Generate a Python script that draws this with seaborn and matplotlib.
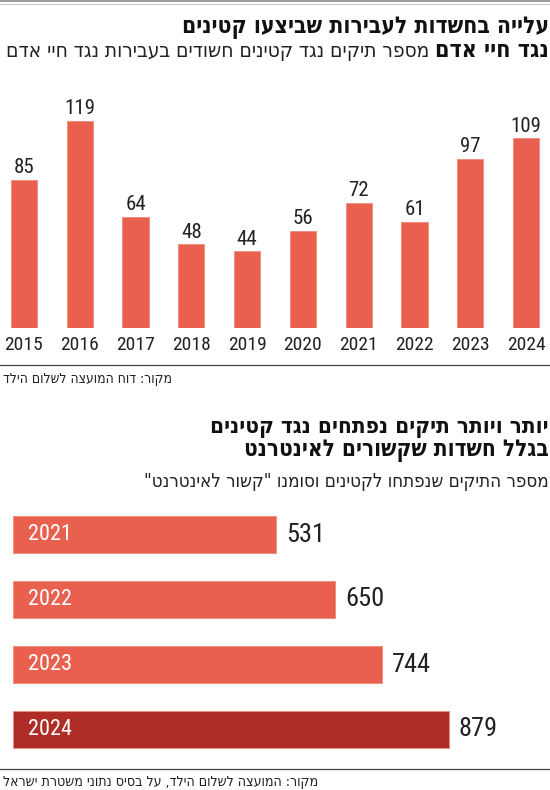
import os
import numpy as np
import pandas as pd
import seaborn as sns
import matplotlib
matplotlib.use('Agg')
import matplotlib.pyplot as plt
from matplotlib import font_manager as fm
from matplotlib.ft2font import FT2Font
from matplotlib.lines import Line2D

# Data
years_top = ['2015', '2016', '2017', '2018', '2019', '2020', '2021', '2022', '2023', '2024']
cases_top = [85, 119, 64, 48, 44, 56, 72, 61, 97, 109]
years_net = ['2021', '2022', '2023', '2024']
cases_net = [531, 650, 744, 879]

# Texts (logical order, reversed for drawing since matplotlib has no bidi)
title1 = 'עלייה בחשדות לעבירות שביצעו קטינים'
title1_bold = 'נגד חיי אדם'
subtitle1 = 'מספר תיקים נגד קטינים חשודים בעבירות נגד חיי אדם'
source1 = 'מקור: דוח המועצה לשלום הילד'
title2_a = 'יותר ויותר תיקים נפתחים נגד קטינים'
title2_b = 'בגלל חשדות שקשורים לאינטרנט'
subtitle2 = 'מספר התיקים שנפתחו לקטינים וסומנו "קשור לאינטרנט"'
source2 = 'מקור: המועצה לשלום הילד, על בסיס נתוני משטרת ישראל'

RED = '#E9604F'
DARK_RED = '#AF2D26'
INK = '#222222'

HEB = 'אבגדהוזחטיכלמנסעפצקרשתםןףץך'


def rtl(s):
    return s[::-1]


def pick_font(candidates, chars='0123456789'):
    files = {os.path.basename(f.fname): f.fname for f in fm.fontManager.ttflist}
    for name in candidates:
        path = files.get(name)
        if path is None:
            continue
        try:
            cmap = FT2Font(path).get_charmap()
        except Exception:
            continue
        if all(ord(c) in cmap for c in chars):
            return fm.FontProperties(fname=path)
    return fm.FontProperties(family='DejaVu Sans')


num_font = pick_font(['RobotoCondensed-Regular.ttf', 'Roboto-Condensed.ttf',
                      'LiberationSansNarrow-Regular.ttf', 'DejaVuSansCondensed.ttf',
                      'Roboto-Regular.ttf'])
heb_bold = pick_font(['LiberationSansNarrow-Bold.ttf', 'DejaVuSansCondensed-Bold.ttf',
                      'DejaVuSans-Bold.ttf'], HEB)
heb_reg = pick_font(['LiberationSansNarrow-Regular.ttf', 'DejaVuSansCondensed.ttf',
                     'DejaVuSans.ttf'], HEB)

W, H = 550, 790
fig = plt.figure(figsize=(W / 100, H / 100), dpi=100)
fig.patch.set_facecolor('white')


def fx(x):
    return x / W


def fy(y):
    return 1 - y / H


# ---- top chart: vertical bars ----
ax1 = fig.add_axes([0, fy(328), 1, 228 / H])
sns.barplot(x=years_top, y=cases_top, color=RED, saturation=1, width=0.47,
            errorbar=None, ax=ax1, edgecolor='#F08A7C', linewidth=0.6)
ax1.set_xlim(-0.43, 9.427)
ax1.set_ylim(0, 131.0)
ax1.bar_label(ax1.containers[0], fontproperties=num_font, fontsize=15, padding=2, color=INK)
ax1.tick_params(axis='x', length=0, pad=6)
for lbl in ax1.get_xticklabels():
    lbl.set_fontproperties(num_font)
    lbl.set_fontsize(14)
    lbl.set_color(INK)
ax1.set_yticks([])
ax1.set_xlabel('')
ax1.set_ylabel('')
for s in ax1.spines.values():
    s.set_visible(False)
ax1.patch.set_alpha(0)

# ---- bottom chart: horizontal bars ----
px_per_unit = 263.5 / 531
ax2 = fig.add_axes([fx(12.7), fy(762), (W - 12.7) / W, 260 / H])
sns.barplot(x=cases_net, y=years_net, hue=years_net, orient='h',
            palette=[RED, RED, RED, DARK_RED], saturation=1, width=0.56,
            errorbar=None, legend=False, ax=ax2, edgecolor='#F08A7C', linewidth=0.6)
ax2.set_ylim(3.5, -0.5)
ax2.set_xlim(0, (W - 12.7) / px_per_unit)
for c in ax2.containers:
    ax2.bar_label(c, fontproperties=num_font, fontsize=19, padding=7, color=INK)
for i, yr in enumerate(years_net):
    ax2.annotate(yr, xy=(0, i), xytext=(11, 0), textcoords='offset points',
                 ha='left', va='center', color='white', fontproperties=num_font, fontsize=16)
ax2.set_xticks([])
ax2.set_yticks([])
ax2.set_xlabel('')
ax2.set_ylabel('')
for s in ax2.spines.values():
    s.set_visible(False)
ax2.patch.set_alpha(0)

# ---- rules ----
fig.add_artist(Line2D([0, 1], [fy(1), fy(1)], transform=fig.transFigure, color='#8C8C8C', lw=1.2))
fig.add_artist(Line2D([0, 1], [fy(3.5), fy(3.5)], transform=fig.transFigure, color='#BDBDBD', lw=0.6))
fig.add_artist(Line2D([0, 1], [fy(365), fy(365)], transform=fig.transFigure, color='#444444', lw=0.9))
fig.add_artist(Line2D([0, 1], [fy(768.5), fy(768.5)], transform=fig.transFigure, color='#444444', lw=0.9))

# ---- texts ----
renderer = fig.canvas.get_renderer()


def put(s, x, y, width, fp, ha, maxh=None, color=INK):
    # y is the baseline in pixels; font size fitted to width, then shrunk
    # so the text box stays under maxh pixels tall (no clash with next line)
    t = fig.text(fx(x), fy(y), rtl(s), ha=ha, va='baseline', fontproperties=fp,
                 fontsize=12, color=color)
    for _ in range(3):
        w = t.get_window_extent(renderer=renderer).width
        t.set_fontsize(t.get_fontsize() * width / w)
    if maxh is not None:
        h = t.get_window_extent(renderer=renderer).height
        if h > maxh:
            t.set_fontsize(t.get_fontsize() * maxh / h)
    return t


put(title1, 549, 33, 449, heb_bold, 'right', 23, '#111111')
tb = put(title1_bold, 549, 57, 129, heb_bold, 'right', 23, '#111111')
left_bold = tb.get_window_extent(renderer=renderer).x0
put(subtitle1, left_bold - 6, 57, left_bold - 11, heb_reg, 'right', 23)
put(source1, 3, 383, 169, heb_reg, 'left')
put(title2_a, 549, 433, 414, heb_bold, 'right', 22.8, '#111111')
put(title2_b, 549, 456.5, 375, heb_bold, 'right', 22.8, '#111111')
put(subtitle2, 549, 487, 405, heb_reg, 'right', 24)
put(source2, 3, 786, 315, heb_reg, 'left')

fig.savefig('out.png', dpi=100, facecolor='white')
